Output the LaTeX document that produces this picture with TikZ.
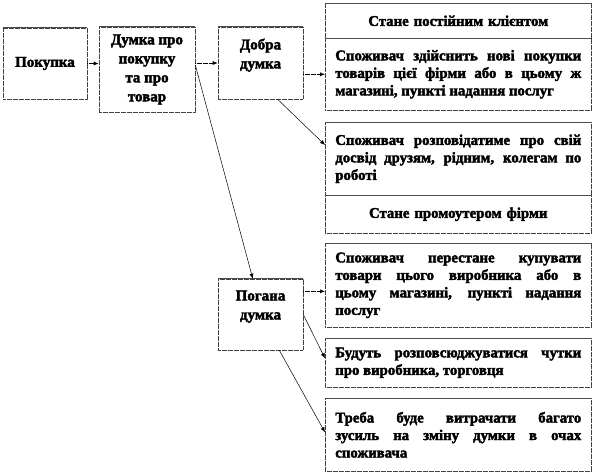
\documentclass[tikz,border=0pt]{standalone}
\usepackage{fontspec}
\setmainfont{Liberation Serif}[BoldFeatures={FakeBold=2.5}]
\usetikzlibrary{arrows.meta,calc}
\begin{document}
\begin{tikzpicture}[x=1pt,y=-1pt,
  fine dots/.style={dash pattern=on 0.6pt off 0.6pt,line width=0.6pt},
  box/.style={draw=black!75,fine dots,fill=white,inner sep=0pt,font=\fontsize{15}{19}\selectfont\bfseries,align=center},
  rbox/.style={draw=black!75,fine dots,fill=white,inner xsep=10pt,inner ysep=0pt,text width=246pt,minimum width=266pt,
     font=\fontsize{14.8}{17.5}\selectfont\bfseries,align=justify,anchor=north west},
  rcbox/.style={rbox,align=center},
  topline/.style={draw=black!70,line width=0.7pt},
  dotarrow/.style={fine dots,-{Latex[length=5pt,width=4pt]}},
  solarrow/.style={line width=0.5pt,-{Latex[length=5pt,width=4pt]}}]
\useasboundingbox (0,0) rectangle (594,474);

% left boxes
\node[box,minimum width=84pt,minimum height=71pt] (pok) at (45,63.5) {Покупка};
\node[box,minimum width=96pt,minimum height=85pt] (dumka) at (147,69.5) {Думка про\\покупку\\та про\\товар};
\node[box,minimum width=85pt,minimum height=72pt] (dobra) at (260.5,63) {Добра\\думка\\~};
\node[box,minimum width=85pt,minimum height=71pt] (pogana) at (260.5,314.5) {Погана\\думка\\~};

% right boxes
\node[rcbox,minimum height=35pt] (r1a) at (325,3) {Стане постійним клієнтом};
\node[rbox,minimum height=72pt] (r1b) at (325,38) {Споживач здійснить нові покупки\linebreak товарів цієї фірми або в цьому ж\linebreak магазині, пункті надання послуг};
\node[rbox,minimum height=73pt] (r2a) at (325,122) {Споживач розповідатиме про свій\linebreak досвід друзям, рідним, колегам по\linebreak роботі};
\node[rcbox,minimum height=38pt] (r2b) at (325,195) {Стане промоутером фірми};
\node[rbox,minimum height=84pt] (r3) at (325,243) {Споживач перестане купувати\linebreak товари цього виробника або в\linebreak цьому магазині, пункті надання\linebreak послуг};
\node[rbox,minimum height=49pt] (r4) at (325,338) {Будуть розповсюджуватися чутки\linebreak про виробника, торговця};
\node[rbox,minimum height=73pt] (r5) at (325,398) {Треба буде витрачати багато\linebreak зусиль на зміну думки в очах\linebreak споживача};

\foreach \n in {pok,dumka,dobra,pogana,r1a,r1b,r2a,r2b,r3,r4,r5}
  \draw[topline] (\n.north west) -- (\n.north east);

% connectors
\draw[dotarrow] (pok.east) -- (pok.east -| dumka.west);
\draw[dotarrow] (dumka.east |- dobra.west) -- (dobra.west);
\draw[dotarrow] (dobra.east |- r1b.west) -- (r1b.west);
\coordinate (d1) at ($(dobra.south west)!0.7!(dobra.south east)$);
\coordinate (e1) at ([yshift=-23pt]r2a.north west);
\draw[solarrow] (d1) -- (e1);
\coordinate (d2) at ([yshift=4.5pt]dumka.east);
\coordinate (e2) at ($(pogana.north west)!0.41!(pogana.north east)$);
\draw[solarrow] (d2) -- (e2);
\coordinate (e3) at ([yshift=-6pt]r3.west);
\draw[dotarrow] (e3 -| pogana.east) -- (e3);
\coordinate (e4) at ([yshift=4.5pt]r4.west);
\draw[solarrow] (pogana.east) -- (e4);
\coordinate (d5) at ($(pogana.south west)!0.72!(pogana.south east)$);
\coordinate (e5) at ([yshift=2.5pt]r5.west);
\draw[solarrow] (d5) -- (e5);
\end{tikzpicture}
\end{document}
